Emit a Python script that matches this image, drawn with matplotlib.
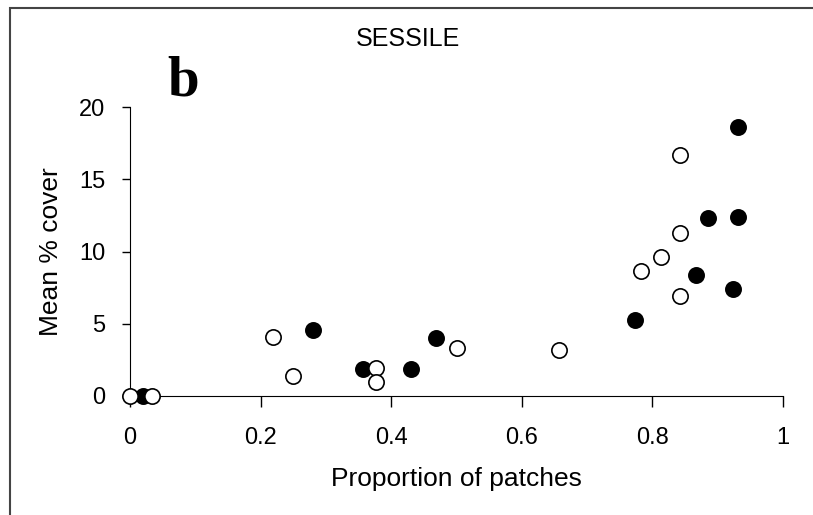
import matplotlib
matplotlib.use("Agg")
from matplotlib import pyplot as plt
from matplotlib.patches import Rectangle

# filled circles
x_filled = [0.02, 0.280, 0.357, 0.430, 0.469, 0.773, 0.867, 0.885, 0.923, 0.931, 0.931]
y_filled = [0.0, 4.6, 1.9, 1.9, 4.0, 5.25, 8.4, 12.3, 7.4, 12.4, 18.6]

# open circles
x_open = [0.0, 0.033, 0.219, 0.250, 0.377, 0.377, 0.500, 0.657, 0.782, 0.813, 0.842, 0.842, 0.842]
y_open = [0.0, 0.0, 4.1, 1.4, 1.95, 0.95, 3.3, 3.2, 8.65, 9.6, 6.9, 11.3, 16.7]

x_ticks = [0, 0.2, 0.4, 0.6, 0.8, 1]
x_ticklabels = ['0', '0.2', '0.4', '0.6', '0.8', '1']
y_ticks = [0, 5, 10, 15, 20]

plt.rcParams['font.family'] = ['Liberation Sans', 'DejaVu Sans']
font_size = 17
label_size = 19

fig = plt.figure(figsize=(8.13, 5.15), dpi=100)
ax = fig.add_axes([130 / 813, 1 - 396 / 515, 653 / 813, 289 / 515])

ax.plot(x_filled, y_filled, 'o', color='black', markersize=11, markeredgewidth=1.2, clip_on=False, zorder=3)
ax.plot(x_open, y_open, 'o', markerfacecolor='white', markeredgecolor='black',
        markersize=11, markeredgewidth=1.2, clip_on=False, zorder=4)

ax.set_xlim(0, 1)
ax.set_ylim(0, 20)
ax.set_xticks(x_ticks)
ax.set_xticklabels(x_ticklabels)
ax.set_yticks(y_ticks)
ax.spines['top'].set_visible(False)
ax.spines['right'].set_visible(False)
ax.tick_params(direction='out', width=1, labelsize=font_size)
ax.tick_params(axis='x', length=8, pad=14)
ax.tick_params(axis='y', length=6, pad=12)

ax.set_xlabel('Proportion of patches', fontsize=label_size, labelpad=13)
ax.set_ylabel('Mean % cover', fontsize=label_size, labelpad=11)

fig.text(408 / 813, 1 - 39 / 515, 'SESSILE', fontsize=18, ha='center', va='center')
fig.text(167 / 813, 1 - 96 / 515, 'b', fontsize=41, fontweight='bold',
         family='Liberation Serif', ha='left', va='baseline')

# outer frame (left and top edges visible)
fig.patches.append(Rectangle((10 / 813, -0.1), 1.2, 1 - 8 / 515 + 0.1, transform=fig.transFigure,
                             fill=False, edgecolor='#444444', linewidth=1.5))

fig.savefig('out.png', dpi=100)
